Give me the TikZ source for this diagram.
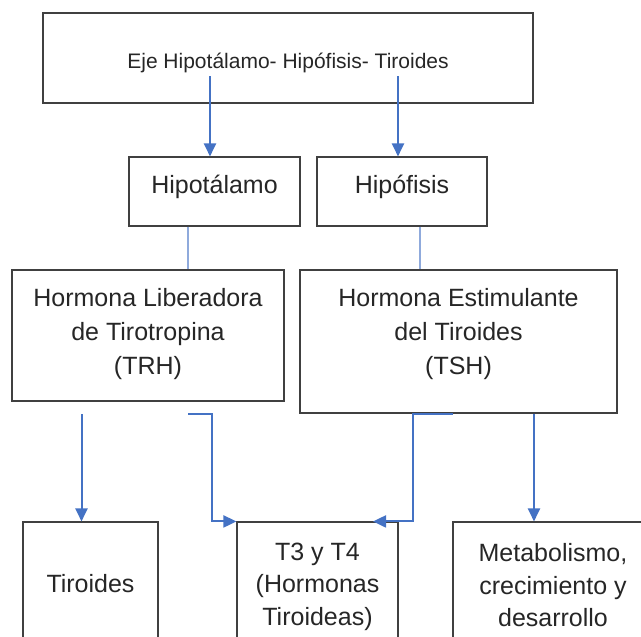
\documentclass[tikz,border=0pt]{standalone}
\usepackage{fontspec}
\setmainfont{Liberation Sans}
\usetikzlibrary{arrows.meta}

\definecolor{azul}{HTML}{4472C4}
\definecolor{celeste}{HTML}{8FAADC}

\tikzset{
	caja/.style={draw=black!75, line width=1.1pt, text=black!85, align=center, inner sep=0pt, font=\fontsize{25}{34}\selectfont},
	cajabaja/.style={caja, font=\fontsize{25}{32.5}\selectfont},
	flecha/.style={azul, line width=2pt, -{Triangle[length=13pt,width=12pt]}},
	enlace/.style={celeste, line width=1.3pt}
}

\begin{document}
\begin{tikzpicture}[x=1pt,y=-1pt]
	\clip (0,0) rectangle (641,637);
\node[caja, minimum width=490pt, minimum height=90pt, text height=20pt, text depth=0pt, font=\fontsize{21}{25}\selectfont] (eje) at (288,58) {Eje Hipotálamo- Hipófisis- Tiroides};

\node[caja, minimum width=171pt, minimum height=69pt, text height=4pt, text depth=0pt] (hipo) at (214.5,191.5) {Hipotálamo};
\node[caja, minimum width=170pt, minimum height=69pt, text height=4pt, text depth=0pt] (hipof) at (402,191.5) {Hipófisis};

\node[caja, minimum width=272pt, minimum height=131pt, text height=77pt, text depth=0pt] (trh) at (148,335.5) {Hormona Liberadora\\de Tirotropina\\(TRH)};
\node[caja, minimum width=317pt, minimum height=143pt, text height=66.4pt, text depth=0pt] (tsh) at (458.5,341.5) {Hormona Estimulante\\del Tiroides\\(TSH)};

\node[cajabaja, minimum width=135pt, minimum height=138pt, text height=3pt, text depth=0pt] (tiro) at (90.5,591) {Tiroides};
\node[cajabaja, minimum width=161pt, minimum height=138pt, text height=68pt, text depth=0pt] (t3) at (317.5,591) {T3 y T4\\(Hormonas\\Tiroideas)};
\node[cajabaja, minimum width=200pt, minimum height=138pt, text height=71pt, text depth=0pt] (meta) at (553,591) {Metabolismo,\\crecimiento y\\desarrollo};

% flechas de arriba
\coordinate (p1) at (210,76);
\coordinate (p2) at (398,76);
\draw[flecha] (p1) -- (p1 |- hipo.north);
\draw[flecha] (p2) -- (p2 |- hipof.north);

% lineas claras
\coordinate (q1) at (188,0);
\coordinate (q2) at (420,0);
\draw[enlace] (hipo.south -| q1) -- (trh.north -| q1);
\draw[enlace] (hipof.south -| q2) -- (tsh.north -| q2);

% flechas de abajo
\coordinate (r1) at (81.5,414);
\coordinate (r2) at (188,414);
\coordinate (r3) at (453,0);
\coordinate (r4) at (373,0);
\coordinate (r5) at (534,0);
\draw[flecha] (r1) -- (r1 |- tiro.north);
\draw[flecha] (r2) -- ++(24,0) |- (t3.north west);
\draw[flecha] (tsh.south -| r3) -- ++(-40.5,0) |- (t3.north -| r4);
\draw[flecha] (tsh.south -| r5) -- (meta.north -| r5);

\end{tikzpicture}
\end{document}
